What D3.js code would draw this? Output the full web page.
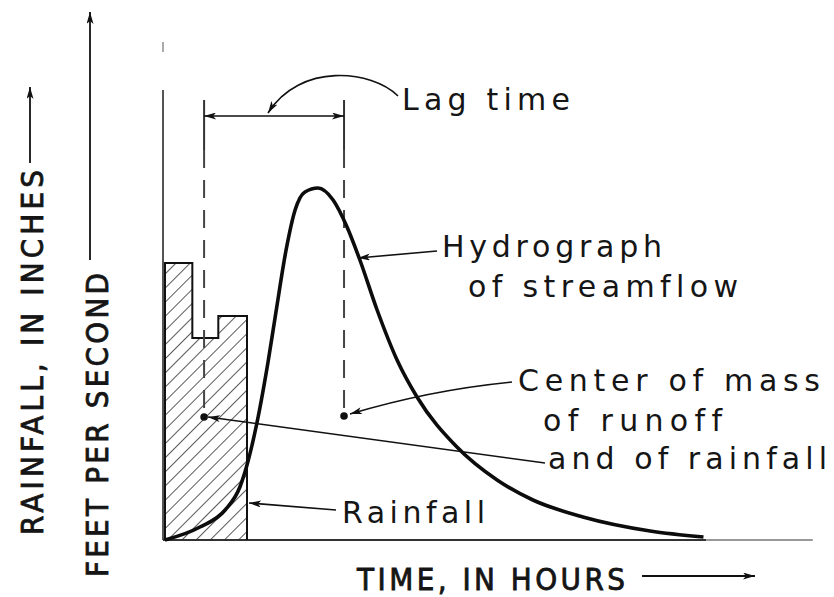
<!DOCTYPE html>
<html>
<head>
<meta charset="utf-8">
<script src="https://cdn.jsdelivr.net/npm/d3@7/dist/d3.min.js"></script>
<style>
  html, body { margin: 0; padding: 0; background: #fff; }
  svg { display: block; }
  .lbl { font-family: "DejaVu Sans", "Open Sans", sans-serif; font-size: 30px; fill: #151515; font-variant-ligatures: none; }
  .cap { font-family: "DejaVu Sans", sans-serif; font-stretch: condensed; font-size: 31px; fill: #151515; stroke: #151515; stroke-width: 0.8px; }
</style>
</head>
<body>
<svg id="chart" width="834" height="597"></svg>
<script>
// rainfall blocks (hours, arbitrary depth units)
const rainEdges = [0, 1.0, 1.95, 3.0]
const rainDepth = [55.4, 40.4, 44.8]

// hydrograph of streamflow
const flowTime = [0, 1.28, 2.2, 2.74, 3.0, 3.37, 3.77, 4.06, 4.43, 4.76, 5.12, 5.6, 6.15, 6.66, 7.13, 7.76, 8.49, 9.22, 10.68, 12.15, 13.46, 15.29, 17.75, 19.7]
const flowRate = [0, 2.6, 6, 10.6, 15, 23.6, 35.6, 45.6, 58, 66, 69.6, 70.4, 68, 62.6, 56, 46, 36, 28.6, 18.6, 12, 8, 4.6, 1.8, 0.6]

// centers of mass
const centerTime = [1.43, 6.55]   // rainfall, runoff
const centerLevel = [24.6, 24.8]
const lagLevel = 84.8
const lagTop = 88

const svg = d3.select('#chart')
const x = d3.scaleLinear().domain([0, 24]).range([165, 821])
const y = d3.scaleLinear().domain([0, 100]).range([540, 40])

const defs = svg.append('defs')
defs.append('pattern')
  .attr('id', 'hatch')
  .attr('patternUnits', 'userSpaceOnUse')
  .attr('width', 10).attr('height', 10)
  .attr('patternTransform', 'rotate(45)')
  .append('line')
  .attr('x1', 0).attr('y1', 0).attr('x2', 0).attr('y2', 10)
  .style('stroke', '#222').style('stroke-width', 1.5)

defs.append('marker')
  .attr('id', 'arrow')
  .attr('markerUnits', 'userSpaceOnUse')
  .attr('viewBox', '0 0 12 7')
  .attr('refX', 12).attr('refY', 3.5)
  .attr('markerWidth', 13).attr('markerHeight', 7)
  .attr('orient', 'auto-start-reverse')
  .append('path').attr('d', 'M0,0 L12,3.5 L0,7 L3,3.5 Z').style('fill', '#111')

// axes
svg.append('line')
  .attr('x1', x(0) - 2).attr('x2', x(0) - 2).attr('y1', 90).attr('y2', y(0))
  .style('stroke', '#555').style('stroke-width', 2)
svg.append('line')
  .attr('x1', x(0) - 2).attr('x2', x(0) - 2).attr('y1', 42).attr('y2', 52)
  .style('stroke', '#aaa').style('stroke-width', 2)
svg.append('line')
  .attr('x1', x(0) - 2).attr('x2', x(19.8)).attr('y1', y(0)).attr('y2', y(0))
  .style('stroke', '#333').style('stroke-width', 2)
svg.append('line')
  .attr('x1', x(19.8)).attr('x2', x(23.7)).attr('y1', y(0)).attr('y2', y(0))
  .style('stroke', '#999').style('stroke-width', 2)

// rainfall hyetograph
const rainPts = rainEdges.map((e, i) => ({ t: e, v: rainDepth[Math.min(i, rainDepth.length - 1)] }))
const area = d3.area().curve(d3.curveStepAfter).x(d => x(d.t)).y0(y(0)).y1(d => y(d.v))
svg.append('path').datum(rainPts).attr('d', area).style('fill', 'url(#hatch)')
const outline = [{ t: 0, v: 0 }, ...rainPts, { t: rainEdges[rainEdges.length - 1], v: 0 }]
const stepLine = d3.line().curve(d3.curveStepAfter).x(d => x(d.t)).y(d => y(d.v))
svg.append('path').datum(outline).attr('d', stepLine)
  .style('fill', 'none').style('stroke', '#111').style('stroke-width', 2)

// dashed center lines
centerTime.forEach((t, i) => {
  svg.append('line')
    .attr('x1', x(t)).attr('x2', x(t)).attr('y1', y(lagTop)).attr('y2', y(lagTop) + 50)
    .style('stroke', '#333').style('stroke-width', 2)
  svg.append('line')
    .attr('x1', x(t)).attr('x2', x(t)).attr('y1', y(lagTop) + 50).attr('y2', y(centerLevel[i]))
    .style('stroke', '#444').style('stroke-width', 2).style('stroke-dasharray', '18,12')
  svg.append('circle').attr('cx', x(t)).attr('cy', y(centerLevel[i])).attr('r', 3.8).style('fill', '#111')
})

// lag time bracket
svg.append('line')
  .attr('x1', x(centerTime[0])).attr('x2', x(centerTime[1]))
  .attr('y1', y(lagLevel)).attr('y2', y(lagLevel))
  .attr('marker-start', 'url(#arrow)').attr('marker-end', 'url(#arrow)')
  .style('stroke', '#111').style('stroke-width', 1.5)

// hydrograph
const flow = flowTime.map((t, i) => ({ t, v: flowRate[i] }))
const flowLine = d3.line().curve(d3.curveMonotoneX).x(d => x(d.t)).y(d => y(d.v))
svg.append('path').datum(flow).attr('d', flowLine)
  .style('fill', 'none').style('stroke', '#0c0c0c').style('stroke-width', 3.6)

// leaders
const leaders = [
  'M398,96 C372,70 300,62 268,113',
  'M437,251 L358,258',
  'M512,382 Q430,390 350,414',
  'M545,463 L208,417',
  'M336,510 L249,503'
]
svg.selectAll('.leader').data(leaders).enter().append('path')
  .classed('leader', true)
  .attr('d', d => d)
  .attr('marker-end', 'url(#arrow)')
  .style('fill', 'none').style('stroke', '#111').style('stroke-width', 1.6)

// labels
const notes = [
  { text: 'Lag time', x: 402, y: 110, w: 168 },
  { text: 'Hydrograph', x: 442, y: 257, w: 220 },
  { text: 'of streamflow', x: 468, y: 297, w: 270 },
  { text: 'Center of mass', x: 518, y: 391, w: 302 },
  { text: 'of runoff', x: 543, y: 431, w: 179 },
  { text: 'and of rainfall', x: 548, y: 469, w: 279 },
  { text: 'Rainfall', x: 342, y: 523, w: 143 }
]
svg.selectAll('.lbl').data(notes).enter().append('text')
  .classed('lbl', true)
  .attr('x', d => d.x).attr('y', d => d.y)
  .attr('textLength', d => d.w).attr('lengthAdjust', 'spacing')
  .text(d => d.text)

// axis titles
svg.append('text').classed('cap', true)
  .attr('x', 357).attr('y', 590)
  .attr('textLength', 268).attr('lengthAdjust', 'spacing')
  .text('TIME, IN HOURS')
svg.append('line')
  .attr('x1', 642).attr('x2', 755).attr('y1', 576).attr('y2', 576)
  .attr('marker-end', 'url(#arrow)')
  .style('stroke', '#111').style('stroke-width', 1.8)

svg.append('text').classed('cap', true)
  .attr('transform', 'translate(43,535) rotate(-90)')
  .attr('textLength', 365).attr('lengthAdjust', 'spacing')
  .text('RAINFALL, IN INCHES')
svg.append('line')
  .attr('x1', 30).attr('x2', 30).attr('y1', 163).attr('y2', 87)
  .attr('marker-end', 'url(#arrow)')
  .style('stroke', '#111').style('stroke-width', 1.8)

svg.append('text').classed('cap', true)
  .attr('transform', 'translate(108,577) rotate(-90)')
  .attr('textLength', 304).attr('lengthAdjust', 'spacing')
  .text('FEET PER SECOND')
svg.append('line')
  .attr('x1', 90).attr('x2', 90).attr('y1', 260).attr('y2', 12)
  .attr('marker-end', 'url(#arrow)')
  .style('stroke', '#111').style('stroke-width', 1.8)
</script>
</body>
</html>
